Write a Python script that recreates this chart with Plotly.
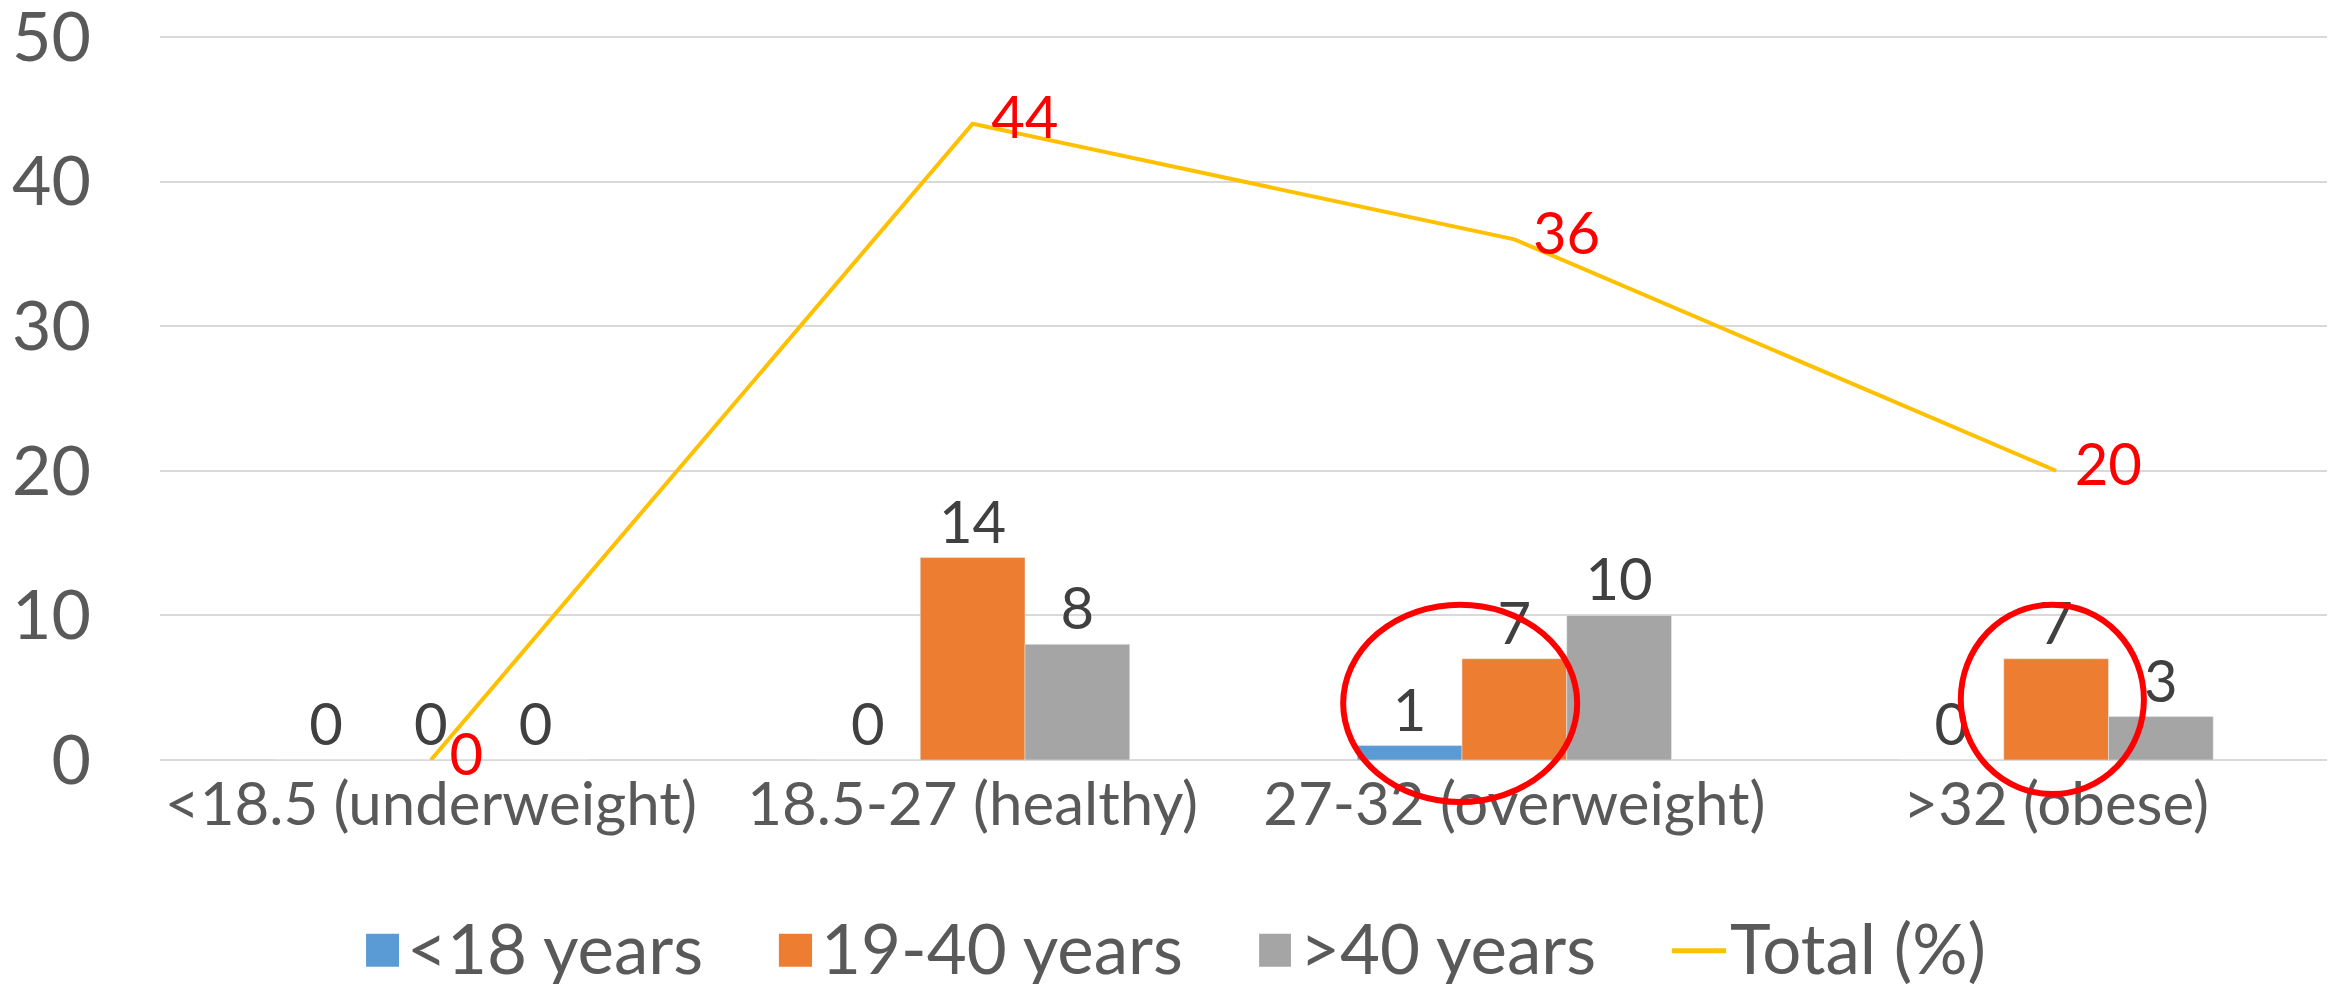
import plotly.graph_objects as go

categories = ["<18.5 (underweight)", "18.5-27 (healthy)", "27-32 (overweight)", ">32 (obese)"]
under18 = [0, 0, 1, 0]
age19_40 = [0, 14, 7, 7]
over40 = [0, 8, 10, 3]
total_pct = [0, 44, 36, 20]
y_ticks = [0, 10, 20, 30, 40, 50]

series = [
    ("<18 years", under18, "#5B9BD5"),
    ("19-40 years", age19_40, "#ED7D31"),
    (">40 years", over40, "#A5A5A5"),
]
LINE_NAME = "Total (%)"
LINE_COLOR = "#FFC000"

FONT = "Lato"
fig = go.Figure()
for name, vals, col in series:
    fig.add_trace(go.Bar(
        x=categories, y=vals, name=name, marker_color=col,
        text=[str(v) for v in vals], textposition="outside",
        textfont=dict(family=FONT, size=58, color="#404040"),
        constraintext="none", cliponaxis=False, showlegend=False,
    ))

fig.add_trace(go.Scatter(
    x=categories, y=total_pct, name=LINE_NAME, mode="lines+markers+text",
    line=dict(color=LINE_COLOR, width=4),
    marker=dict(size=28, color="rgba(0,0,0,0)"),
    text=[str(v) for v in total_pct], textposition="middle right",
    textfont=dict(family=FONT, size=58, color="#FF0000"),
    cliponaxis=False, showlegend=False,
))

# hand-drawn red ellipses (paper coordinates)
ellipses = [(0.546, -0.058, 0.654, 0.214), (0.831, -0.047, 0.9155, 0.214)]
for x0, y0, x1, y1 in ellipses:
    fig.add_shape(type="circle", xref="paper", yref="paper",
                  x0=x0, y0=y0, x1=x1, y1=y1,
                  line=dict(color="#FF0000", width=6), layer="above")

# legend (drawn manually to match square swatches)
LEG_Y = -0.258
swatches = [(0.0951, 0.1103), (0.2856, 0.3009), (0.5072, 0.5219)]
text_x = [0.1135, 0.3046, 0.5256, 0.7240]
for (sx0, sx1), (name, _, col) in zip(swatches, series):
    fig.add_shape(type="rect", xref="paper", yref="paper",
                  x0=sx0, x1=sx1, y0=-0.2849, y1=-0.2393,
                  fillcolor=col, line=dict(width=0))
fig.add_shape(type="line", xref="paper", yref="paper",
              x0=0.6977, x1=0.7227, y0=-0.2628, y1=-0.2628,
              line=dict(color=LINE_COLOR, width=5))
legend_names = [s[0] for s in series] + [LINE_NAME]
for tx, name in zip(text_x, legend_names):
    fig.add_annotation(text=name, xref="paper", yref="paper", x=tx, y=LEG_Y,
                       xanchor="left", yanchor="middle", showarrow=False,
                       borderpad=0, font=dict(family=FONT, size=69, color="#595959"))

# page body has an 8px default margin; figure is sized/offset to compensate
fig.update_layout(
    width=2333, height=976,
    margin=dict(l=152, r=14, t=26, b=224),
    paper_bgcolor="white", plot_bgcolor="white",
    barmode="group", bargap=0.42, bargroupgap=0,
    font=dict(family=FONT, color="#595959"),
    showlegend=False,
)
fig.update_yaxes(range=[0, 50.2], tickvals=y_ticks, showgrid=True, gridcolor="#D9D9D9",
                 gridwidth=2, zeroline=True, zerolinecolor="#D9D9D9", zerolinewidth=2,
                 showline=False, ticks="", ticklabelstandoff=68, automargin=False,
                 ticklabeloverflow="allow",
                 tickfont=dict(family=FONT, size=68, color="#595959"))
fig.update_xaxes(showgrid=False, showline=False, ticks="", ticklabelstandoff=4,
                 automargin=False,
                 tickfont=dict(family=FONT, size=60, color="#595959"))

fig.write_html("out.html")
